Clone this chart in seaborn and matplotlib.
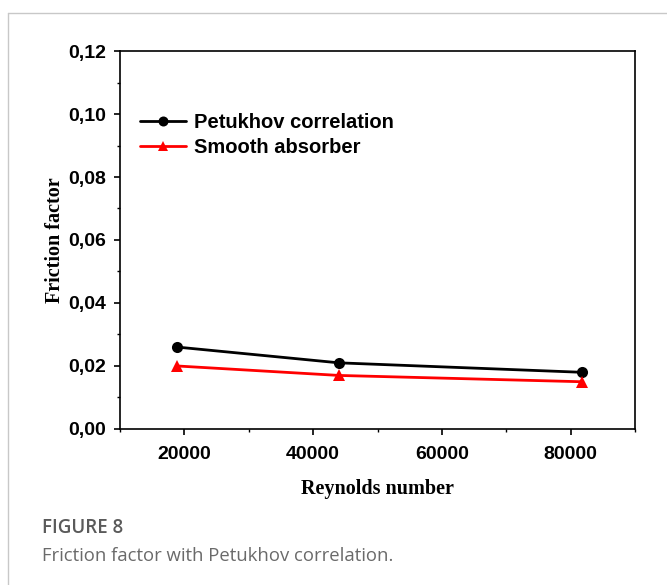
import numpy as np
import pandas as pd
import matplotlib
matplotlib.use("Agg")
import matplotlib.pyplot as plt
import seaborn as sns
from matplotlib.ticker import MultipleLocator, FuncFormatter

reynolds = [18900, 44000, 81700]
petukhov = [0.026, 0.021, 0.018]
smooth = [0.020, 0.017, 0.015]
series_names = ["Petukhov correlation", "Smooth absorber"]

df = pd.DataFrame({
    "Re": reynolds * 2,
    "f": petukhov + smooth,
    "series": [series_names[0]] * 3 + [series_names[1]] * 3,
})

sns.set_theme(style="white")
plt.rcParams["font.family"] = ["Liberation Sans", "DejaVu Sans"]

fig = plt.figure(figsize=(6.67, 5.85), dpi=100)
ax = fig.add_axes([0.18, 0.2667, 0.772, 0.6461])

sns.lineplot(data=df, x="Re", y="f", hue="series", style="series",
             palette={series_names[0]: "black", series_names[1]: "red"},
             markers={series_names[0]: "o", series_names[1]: "^"},
             dashes=False, markersize=8, linewidth=2, markeredgewidth=0,
             ax=ax)

ax.set_xlim(10000, 90000)
ax.set_ylim(0, 0.12)
ax.xaxis.set_major_locator(MultipleLocator(20000))
ax.xaxis.set_minor_locator(MultipleLocator(10000))
ax.yaxis.set_major_locator(MultipleLocator(0.02))
ax.yaxis.set_minor_locator(MultipleLocator(0.01))
ax.xaxis.set_major_formatter(FuncFormatter(lambda v, p: f"{int(round(v))}"))
ax.yaxis.set_major_formatter(FuncFormatter(lambda v, p: f"{v:.2f}".replace(".", ",")))

for s in ax.spines.values():
    s.set_color("black")
    s.set_linewidth(1.2)

ax.tick_params(axis="both", which="major", direction="out", length=4, width=1.2,
               color="black", bottom=True, left=True, labelsize=14)
ax.tick_params(axis="x", which="major", pad=8)
ax.tick_params(axis="y", which="major", pad=6)
ax.tick_params(axis="both", which="minor", direction="out", length=2.5, width=1.0,
               color="black", bottom=True, left=True)
for lab in ax.get_xticklabels() + ax.get_yticklabels():
    lab.set_fontweight("bold")
    lab.set_color("black")

ax.set_xlabel("Reynolds number", family=["Liberation Serif", "DejaVu Serif"],
              fontweight="bold", fontsize=14.5, color="black", labelpad=11.5)
ax.set_ylabel("Friction factor", family=["Liberation Serif", "DejaVu Serif"],
              fontweight="bold", fontsize=14.5, color="black", labelpad=2.5)

leg = ax.legend(loc="upper left", bbox_to_anchor=(0.039, 0.837), frameon=False,
                prop={"weight": "bold", "size": 14.5}, handlelength=2.3,
                handletextpad=0.35, labelspacing=0.32, markerscale=0.9,
                borderpad=0, borderaxespad=0)
for t in leg.get_texts():
    t.set_color("black")

# outer frame lines of the figure panel
fig.add_artist(plt.Line2D([8 / 667, 8 / 667], [0, 1 - 13 / 585],
                          transform=fig.transFigure, color="#c8c8c8", lw=1))
fig.add_artist(plt.Line2D([8 / 667, 1], [1 - 13 / 585, 1 - 13 / 585],
                          transform=fig.transFigure, color="#c8c8c8", lw=1))

fig.text(42 / 667, 1 - 528 / 585, "FIGURE 8", family=["Open Sans", "DejaVu Sans"],
         fontsize=13.5, color="#5a5a5a", va="center", ha="left", fontweight="semibold")
fig.text(42 / 667, 1 - 556 / 585, "Friction factor with Petukhov correlation.",
         family=["Open Sans", "DejaVu Sans"], fontsize=13.3, color="#6a6a6a",
         va="center", ha="left")

fig.savefig("out.png", dpi=100)
